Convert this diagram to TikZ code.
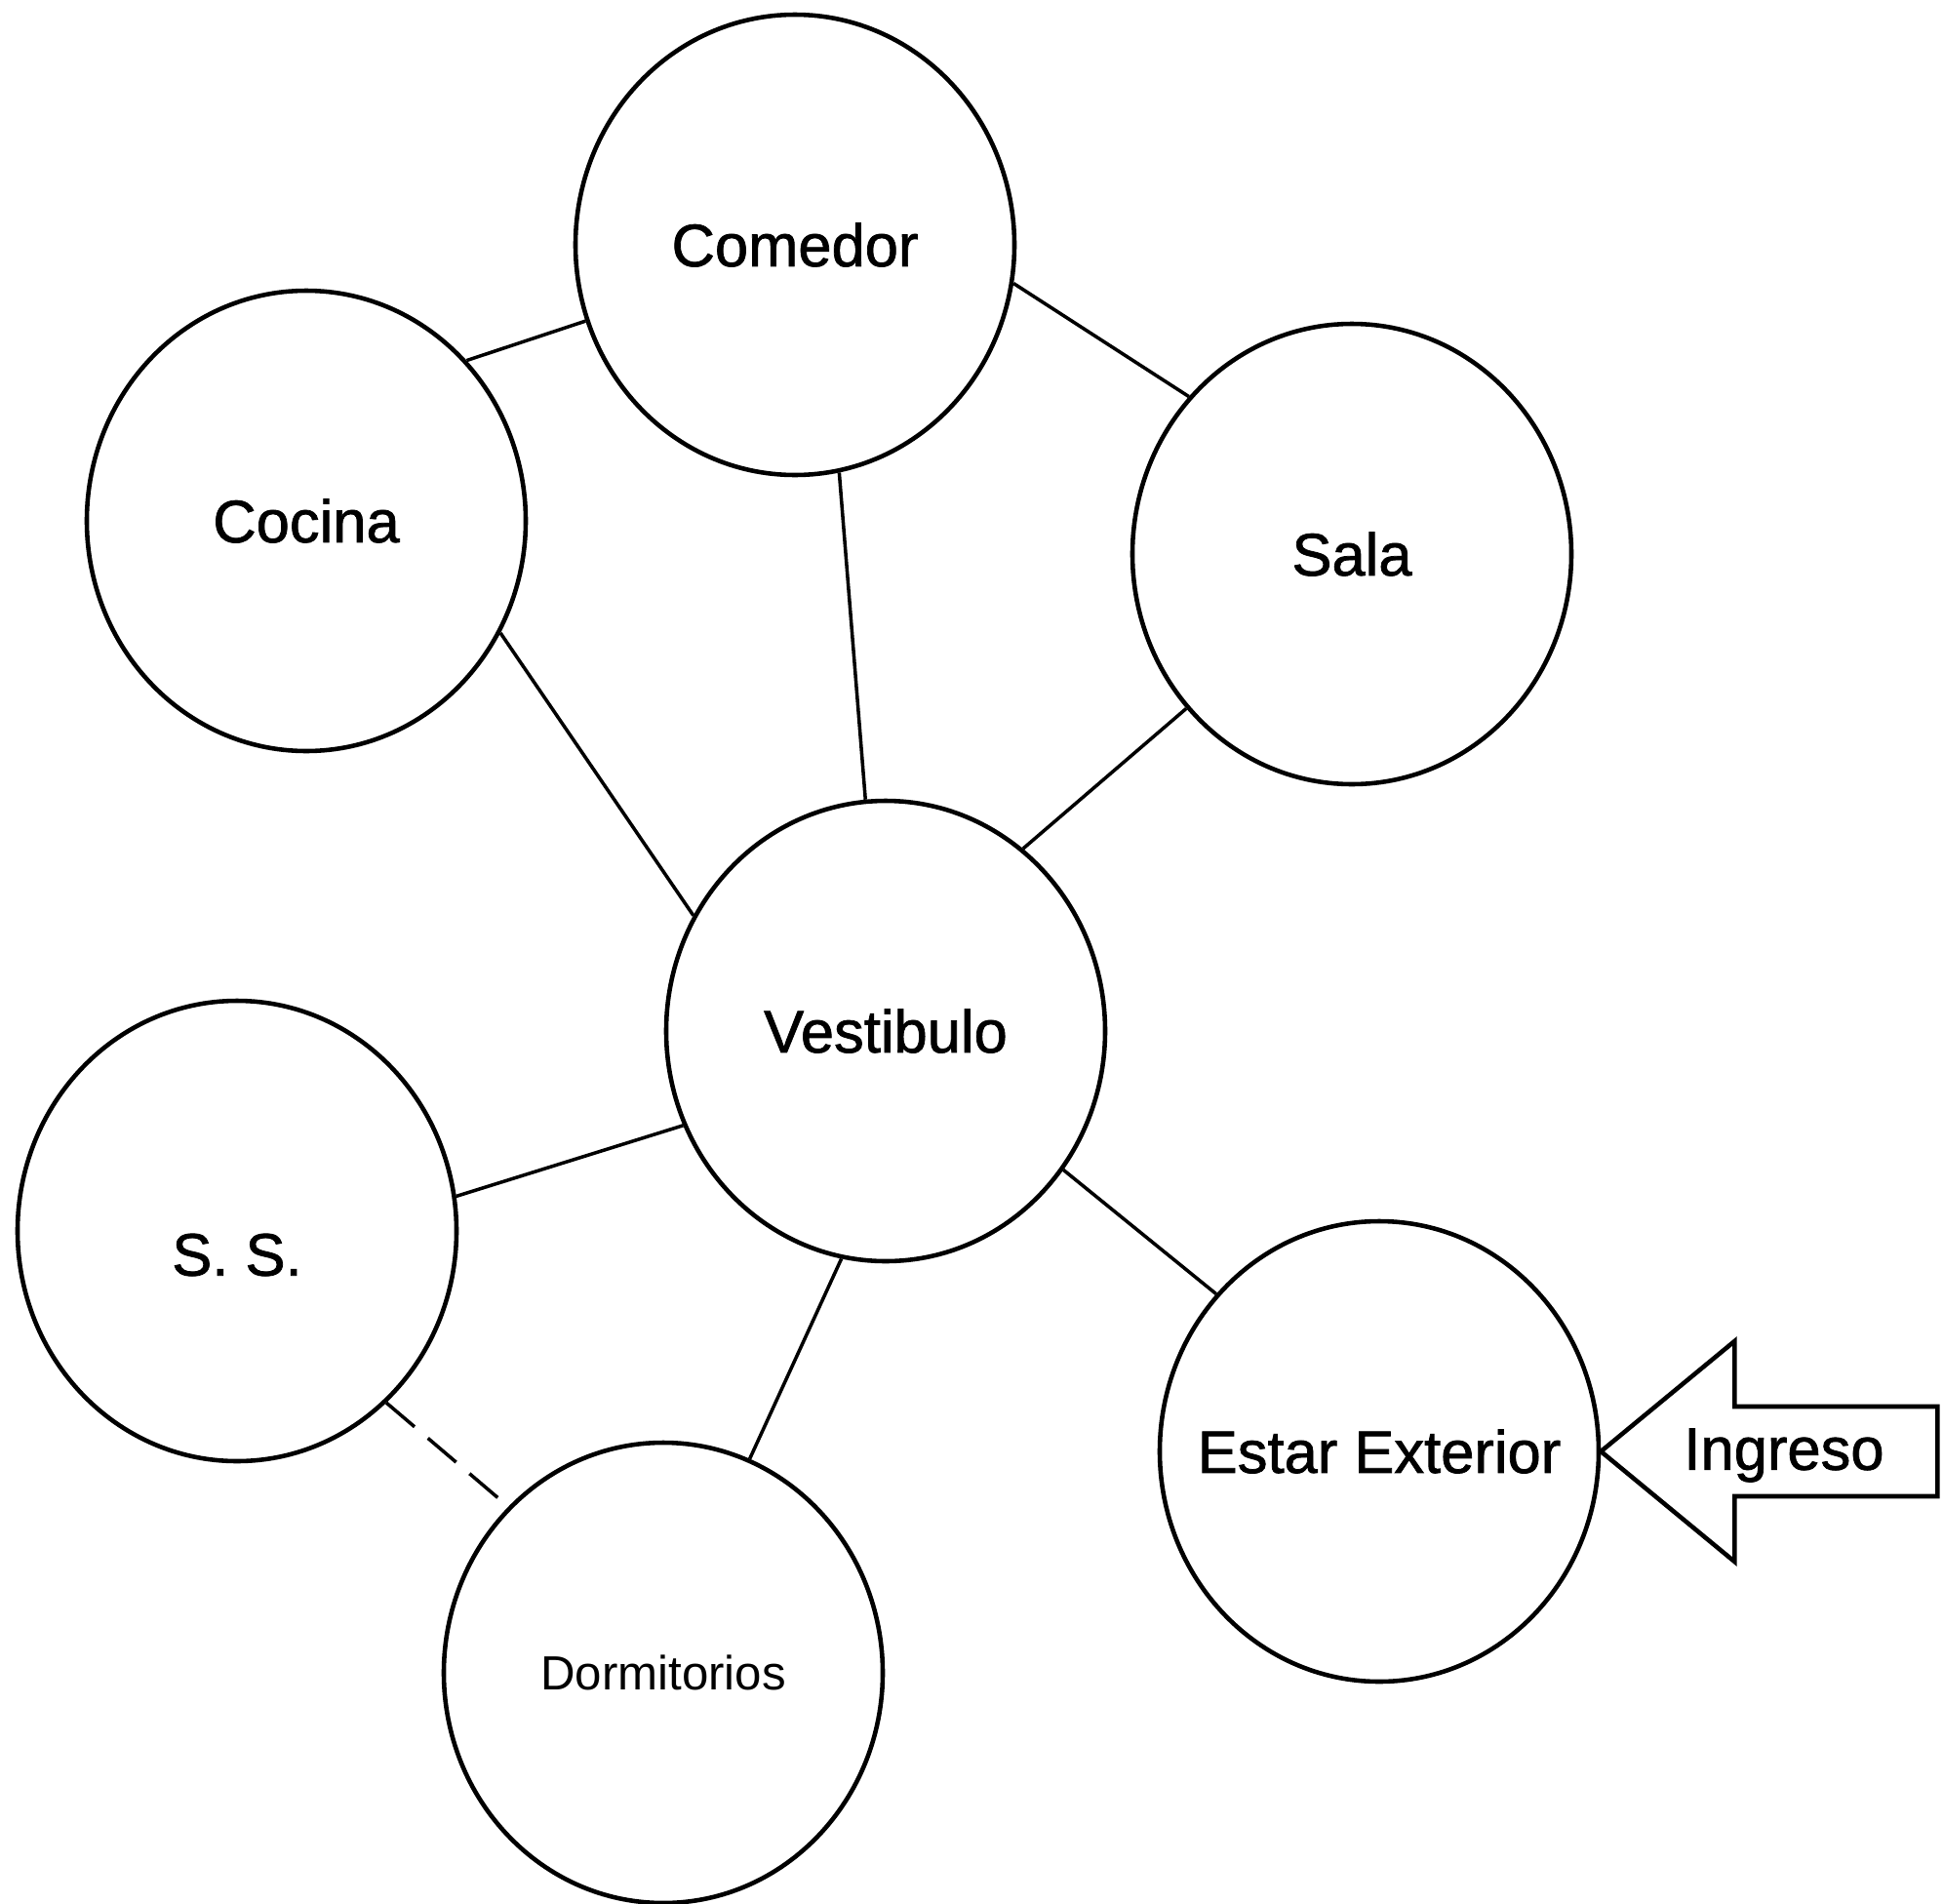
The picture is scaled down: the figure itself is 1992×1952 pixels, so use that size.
\documentclass[tikz,border=0pt]{standalone}
\usepackage{fontspec}
\setmainfont{Liberation Sans}
\newfontfamily\rotulo{Liberation Sans}[FakeBold=1.2]
\usetikzlibrary{shapes.geometric}

\def\LineaCirculo{1.3pt}
\def\LineaEnlace{1pt}

\tikzset{
  espacio/.style={ellipse, draw, line width=\LineaCirculo, inner ysep=0pt,
    inner xsep=-4mm, minimum width=45mm, minimum height=47.2mm,
    font=\rotulo\fontsize{17.5}{20}\selectfont},
  enlace/.style={line width=\LineaEnlace},
}

\begin{document}
\begin{tikzpicture}[x=0.1mm,y=-0.1mm]
  \useasboundingbox (0,0) rectangle (1992,1952);

  % --- Espacios ---
  \foreach \n/\x/\y/\t in {%
    comedor/815/251/Comedor,
    cocina/314/534/Cocina,
    sala/1386/568/Sala,
    vestibulo/908/1057/Vestibulo,
    estar/1414/1488/Estar Exterior%
  }{
    \node[espacio] (\n) at (\x,\y) {\t};
  }
  \node[espacio, text height=26pt, text depth=0pt] (ss) at (243,1262) {S. S.};
  \node[espacio, font=\fontsize{14}{17}\selectfont] (dormitorios) at (680,1715) {Dormitorios};

  % --- Relaciones ---
  \foreach \a/\b in {%
    cocina.45/comedor.200,
    comedor.350/sala.136,
    comedor.281/vestibulo.95,
    cocina.330/vestibulo.149,
    sala.223/vestibulo.53,
    ss.9/vestibulo.205,
    vestibulo.259/dormitorios.68,
    vestibulo.322/estar.136%
  }{
    \draw[enlace] (\a) -- (\b);
  }
  \draw[enlace, dash pattern=on 3.8mm off 1.8mm] (ss.311) -- (dormitorios.133);

  % --- Ingreso ---
  \draw[line width=\LineaCirculo, line join=miter]
    (estar.east) -- ++(137,-113) -- ++(0,67) -- ++(208,0)
    -- ++(0,92) -- ++(-208,0) -- ++(0,67) -- cycle;
  \node[font=\rotulo\fontsize{17.5}{20}\selectfont] (ingreso) at (1829,1492) {Ingreso};
\end{tikzpicture}
\end{document}
